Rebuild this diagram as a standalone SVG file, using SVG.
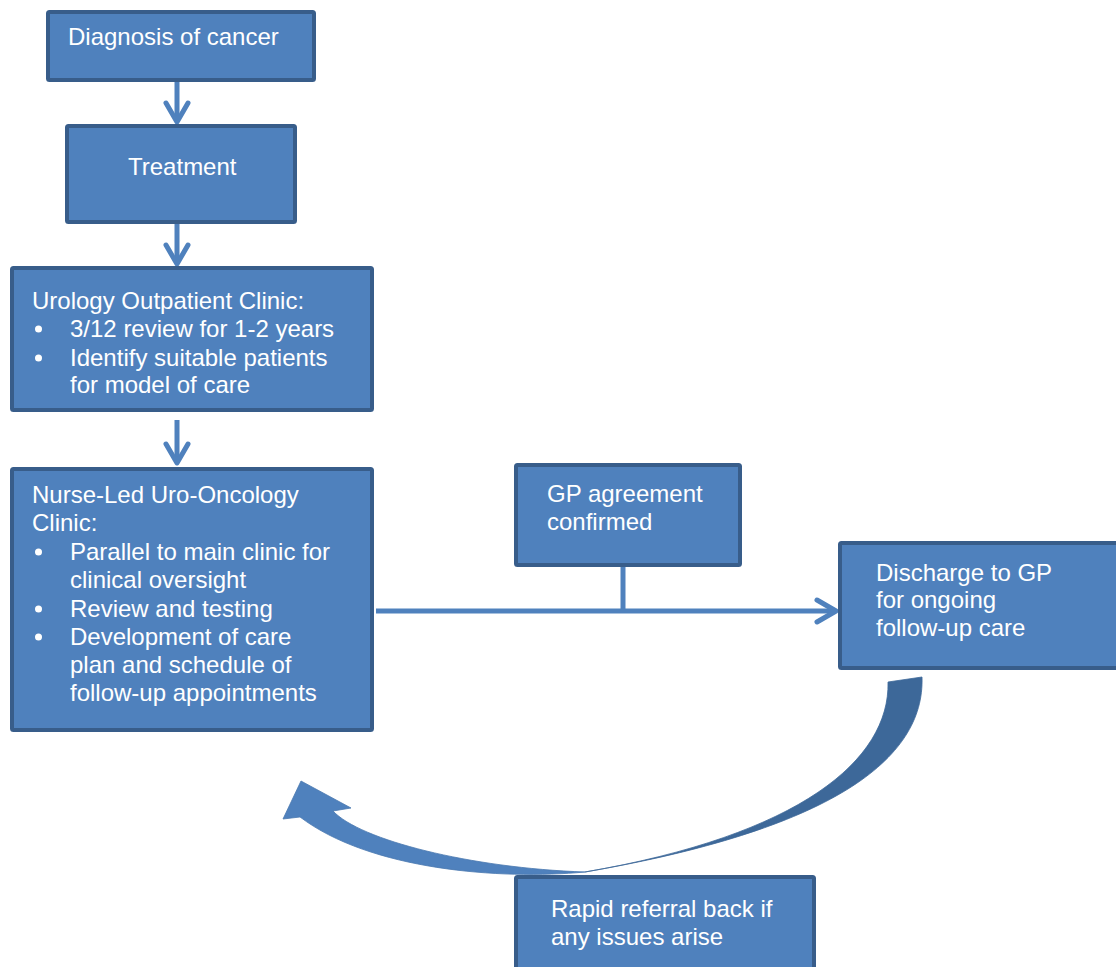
<svg xmlns="http://www.w3.org/2000/svg" width="1116" height="967" viewBox="0 0 1116 967">
<defs>
<style>
.box{fill:#4F81BD;stroke:#385D8A;stroke-width:4}
.t{font-family:"Liberation Sans",Arial,sans-serif;font-size:24px;fill:#FFFFFF}
.c{fill:none;stroke:#4F81BD;stroke-width:5}
.ah{fill:none;stroke:#4F81BD;stroke-width:5;stroke-linecap:round;stroke-linejoin:round}
</style>
</defs>
<rect width="1116" height="967" fill="#FFFFFF"/>
<g id="connectors">
<line class="c" x1="177" y1="82" x2="177" y2="122"/>
<polyline class="ah" points="166,103 177,122 188,103"/>
<line class="c" x1="177" y1="224" x2="177" y2="264"/>
<polyline class="ah" points="166,245 177,264 188,245"/>
<line class="c" x1="177" y1="420" x2="177" y2="463"/>
<polyline class="ah" points="166,444 177,463 188,444"/>
<line class="c" x1="376" y1="611" x2="834" y2="611"/>
<polyline class="ah" points="817,600 836,611 817,622"/>
<line class="c" x1="623" y1="567" x2="623" y2="611"/>
<path id="curve-back" d="M888,682 L922,677 C925,760 830,830 585,872 C800,835 890,760 888,682 Z" fill="#3D6899" stroke="#3D6899" stroke-width="0.8"/>
<path id="curve-front" d="M585,872 C500,880 370,870 300,817 L283,819 L301,781 L351,808 L333,811 C360,840 470,868 585,872 Z" fill="#4F81BD" stroke="#4A79B0" stroke-width="0.8"/>
</g>
<g id="diagnosis">
<rect class="box" x="48" y="12" width="266" height="68" rx="1.5"/>
<text class="t" x="68" y="45">Diagnosis of cancer</text>
</g>
<g id="treatment">
<rect class="box" x="67" y="126" width="228" height="96" rx="1.5"/>
<text class="t" x="128" y="175">Treatment</text>
</g>
<g id="urology">
<rect class="box" x="12" y="268" width="360" height="142" rx="1.5"/>
<text class="t" x="32" y="309">Urology Outpatient Clinic:</text>
<circle cx="38.5" cy="329" r="3.5" fill="#FFFFFF"/>
<text class="t" x="70" y="337">3/12 review for 1-2 years</text>
<circle cx="38.5" cy="358" r="3.5" fill="#FFFFFF"/>
<text class="t" x="70" y="366">Identify suitable patients</text>
<text class="t" x="70" y="393">for model of care</text>
</g>
<g id="nurse-led">
<rect class="box" x="12" y="469" width="360" height="261" rx="1.5"/>
<text class="t" x="32" y="503">Nurse-Led Uro-Oncology</text>
<text class="t" x="32" y="531">Clinic:</text>
<circle cx="38.5" cy="552" r="3.5" fill="#FFFFFF"/>
<text class="t" x="70" y="560">Parallel to main clinic for</text>
<text class="t" x="70" y="588">clinical oversight</text>
<circle cx="38.5" cy="609" r="3.5" fill="#FFFFFF"/>
<text class="t" x="70" y="617">Review and testing</text>
<circle cx="38.5" cy="637" r="3.5" fill="#FFFFFF"/>
<text class="t" x="70" y="645">Development of care</text>
<text class="t" x="70" y="673">plan and schedule of</text>
<text class="t" x="70" y="701">follow-up appointments</text>
</g>
<g id="gp-agreement">
<rect class="box" x="516" y="465" width="224" height="100" rx="1.5"/>
<text class="t" x="547" y="502">GP agreement</text>
<text class="t" x="547" y="530">confirmed</text>
</g>
<g id="discharge">
<rect class="box" x="840" y="543" width="300" height="125" rx="1.5"/>
<text class="t" x="876" y="581">Discharge to GP</text>
<text class="t" x="876" y="608">for ongoing</text>
<text class="t" x="876" y="636">follow-up care</text>
</g>
<g id="rapid-referral">
<rect class="box" x="516" y="877" width="298" height="100" rx="1.5"/>
<text class="t" x="551" y="917">Rapid referral back if</text>
<text class="t" x="551" y="945">any issues arise</text>
</g>
</svg>
